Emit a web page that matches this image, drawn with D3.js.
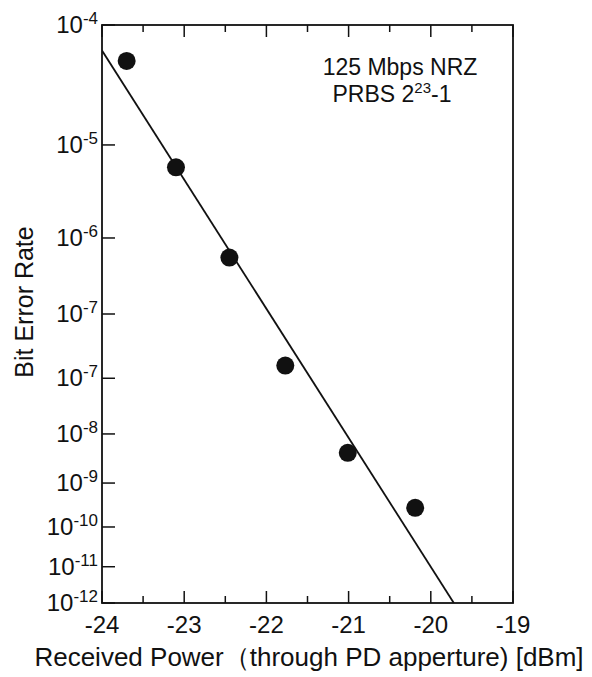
<!DOCTYPE html>
<html>
<head>
<meta charset="utf-8">
<script src="https://cdn.jsdelivr.net/npm/d3@7"></script>
<style>
  html, body { margin: 0; padding: 0; background: #fff; }
  svg text { font-family: "Liberation Sans", Arial, sans-serif; fill: #111; }
</style>
</head>
<body>
<div id="chart"></div>
<script>
// ---- data ----
// x: received power (dBm); berLevel: -log10 position on the chart's double-log BER scale
const powerDbm = [-23.70, -23.10, -22.45, -21.77, -21.01, -20.19];
const berLevel = [3.27, 4.22, 5.24, 6.79, 8.37, 9.55];
// fitted line end points
const fitPower = [-24.0, -19.72];
const fitLevel = [3.19, 12.0];
// axes
const xTicks = [-24, -23, -22, -21, -20, -19];
const xMinorTicks = [-23.5, -22.5, -21.5, -20.5, -19.5];
const yTickLevels = [3, 4, 5, 6, 7, 8, 9, 10, 11, 12];
const yTickExponents = ["-4", "-5", "-6", "-7", "-7", "-8", "-9", "-10", "-11", "-12"];
const annotationLines = ["125 Mbps NRZ", "PRBS 2", "23", "-1"];

// ---- layout ----
const W = 592, H = 677;
const pL = 102, pR = 513, pT = 25, pB = 603;

const svg = d3.select("#chart").append("svg")
  .attr("width", W).attr("height", H);

const x = d3.scaleLinear().domain([-24, -19]).range([pL, pR]);
const y = d3.scaleLog().domain([3, 12]).range([pT, pB]);

// clip
svg.append("clipPath").attr("id", "plotclip")
  .append("rect").attr("x", pL).attr("y", pT)
  .attr("width", pR - pL).attr("height", pB - pT);

// frame
svg.append("rect").attr("x", pL).attr("y", pT)
  .attr("width", pR - pL).attr("height", pB - pT)
  .attr("fill", "none").attr("stroke", "#111").attr("stroke-width", 1.8);

// x ticks (bottom and top, inward)
const tickG = svg.append("g").attr("stroke", "#111").attr("stroke-width", 1.5);
xTicks.forEach(v => {
  tickG.append("line").attr("x1", x(v)).attr("x2", x(v)).attr("y1", pB).attr("y2", pB - 12);
  tickG.append("line").attr("x1", x(v)).attr("x2", x(v)).attr("y1", pT).attr("y2", pT + 12);
});
xMinorTicks.forEach(v => {
  tickG.append("line").attr("x1", x(v)).attr("x2", x(v)).attr("y1", pB).attr("y2", pB - 7);
  tickG.append("line").attr("x1", x(v)).attr("x2", x(v)).attr("y1", pT).attr("y2", pT + 7);
});
// y ticks (left, inward)
yTickLevels.forEach(v => {
  tickG.append("line").attr("x1", pL).attr("x2", pL + 13).attr("y1", y(v)).attr("y2", y(v));
});

// x tick labels
svg.append("g").selectAll("text").data(xTicks).join("text")
  .attr("x", d => x(d)).attr("y", pB + 30)
  .attr("text-anchor", "middle").attr("font-size", 24)
  .text(d => String(d));

// y tick labels
const yl = svg.append("g").selectAll("text").data(yTickLevels).join("text")
  .attr("x", pL - 4).attr("y", d => y(d) + 8)
  .attr("text-anchor", "end").attr("font-size", 24);
yl.append("tspan").text("10");
yl.append("tspan").attr("font-size", 17).attr("dy", -9)
  .text((d, i) => yTickExponents[i]);

// axis titles
svg.append("text")
  .attr("x", 309).attr("y", 666)
  .attr("text-anchor", "middle").attr("font-size", 26)
  .text("Received Power（through PD apperture) [dBm]");
svg.append("text")
  .attr("transform", `translate(33, 302) rotate(-90)`)
  .attr("text-anchor", "middle").attr("font-size", 25)
  .text("Bit Error Rate");

// annotation
svg.append("text").attr("x", 400).attr("y", 75)
  .attr("text-anchor", "middle").attr("font-size", 23).text(annotationLines[0]);
const a2 = svg.append("text").attr("x", 392).attr("y", 102)
  .attr("text-anchor", "middle").attr("font-size", 23);
a2.append("tspan").text(annotationLines[1]);
a2.append("tspan").attr("font-size", 15).attr("dy", -9).text(annotationLines[2]);
a2.append("tspan").attr("dy", 9).text(annotationLines[3]);

// fit line
const plot = svg.append("g").attr("clip-path", "url(#plotclip)");
const fit = fitPower.map((p, i) => [p, fitLevel[i]]);
plot.append("path").datum(fit)
  .attr("d", d3.line().x(d => x(d[0])).y(d => y(d[1])))
  .attr("fill", "none").attr("stroke", "#111").attr("stroke-width", 1.8);

// points
svg.append("g").selectAll("circle").data(powerDbm).join("circle")
  .attr("cx", d => x(d)).attr("cy", (d, i) => y(berLevel[i]))
  .attr("r", 9).attr("fill", "#111");
</script>
</body>
</html>
